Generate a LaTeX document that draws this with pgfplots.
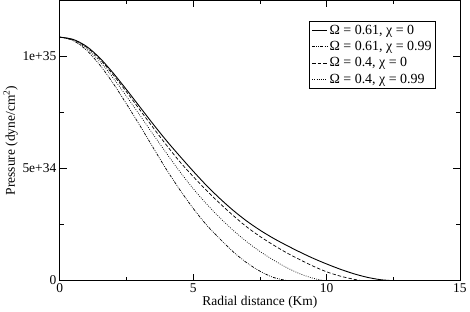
\documentclass[border=0pt]{standalone}
\usepackage{pgfplots}
\pgfplotsset{compat=1.18}
\usepackage{pgfplotstable}
\usepackage{fontspec}
\setmainfont{Liberation Serif}

\pgfplotstableread{
x y
0 10.86
0.5 10.76
1.0 10.45
1.5 9.93
2.0 9.26
2.5 8.52
3.0 7.75
3.5 6.98
4.0 6.24
4.5 5.55
5.0 4.88
5.5 4.24
6.0 3.66
6.5 3.13
7.0 2.66
7.5 2.25
8.0 1.89
8.5 1.57
9.0 1.27
9.5 0.99
10.0 0.74
10.5 0.51
11.0 0.31
11.5 0.15
12.0 0.04
12.4 0
}\solidA

\pgfplotstableread{
x y
0 10.86
0.5 10.71
1.0 10.28
1.5 9.62
2.0 8.80
2.5 7.88
3.0 6.92
3.5 5.93
4.0 4.95
4.5 4.05
5.0 3.22
5.5 2.48
6.0 1.86
6.5 1.28
7.0 0.80
7.5 0.42
8.0 0.14
8.5 0
}\dashdotB

\pgfplotstableread{
x y
0 10.86
0.5 10.75
1.0 10.42
1.5 9.88
2.0 9.18
2.5 8.42
3.0 7.62
3.5 6.82
4.0 6.04
4.5 5.30
5.0 4.64
5.5 4.02
6.0 3.44
6.5 2.90
7.0 2.40
7.5 1.97
8.0 1.59
8.5 1.24
9.0 0.93
9.5 0.64
10.0 0.39
10.5 0.20
11.0 0.06
11.3 0
}\dashedC

\pgfplotstableread{
x y
0 10.86
0.5 10.73
1.0 10.36
1.5 9.78
2.0 9.04
2.5 8.22
3.0 7.38
3.5 6.52
4.0 5.68
4.5 4.86
5.0 4.10
5.5 3.42
6.0 2.80
6.5 2.24
7.0 1.74
7.5 1.30
8.0 0.92
8.5 0.58
9.0 0.30
9.5 0.10
9.9 0
}\dottedD

\begin{document}
\begin{tikzpicture}[x=1bp,y=1bp]
\begin{axis}[
  scale only axis,
  width=400bp, height=280bp,
  xmin=0, xmax=15, ymin=0, ymax=12.5,
  xtick={0,5,10,15},
  minor xtick={2.5,7.5,12.5},
  ytick={0,5,10},
  yticklabels={0,5e+34,1e+35},
  minor ytick={2.5,7.5},
  tick align=inside,
  major tick length=7bp,
  minor tick length=4bp,
  tick style={black, line width=0.6pt},
  axis line style={line width=0.8pt},
  /pgf/number format/assume math mode=true,
  ticklabel style={font=\fontsize{13.5}{15}\selectfont},
  label style={font=\fontsize{13.5}{15}\selectfont},
  xlabel={Radial distance (Km)},
  ylabel={Pressure (dyne/cm\textsuperscript{2})},
  xlabel style={yshift=4bp},
  ylabel style={yshift=-2bp},
  legend style={at={(0.94,0.9275)}, anchor=north east, draw=black, line width=0.6pt,
    fill=white, font=\fontsize{14}{16}\selectfont, cells={anchor=west},
    inner sep=2bp, row sep=1.5bp},
  legend image code/.code={\draw[#1] (0bp,0bp) -- (15bp,0bp);},
]
\addplot[black, line width=0.9pt, smooth] table[x=x,y=y] {\solidA};
\addlegendentry{Ω = 0.61, χ = 0}
\addplot[black, line width=0.7pt, smooth, dash pattern=on 3bp off 1.2bp on 0.8bp off 1.2bp on 0.8bp off 1.2bp] table[x=x,y=y] {\dashdotB};
\addlegendentry{Ω = 0.61, χ = 0.99}
\addplot[black, line width=0.7pt, smooth, dash pattern=on 3.5bp off 2bp] table[x=x,y=y] {\dashedC};
\addlegendentry{Ω = 0.4, χ = 0}
\addplot[black, line width=0.7pt, smooth, dash pattern=on 0.8bp off 1.4bp] table[x=x,y=y] {\dottedD};
\addlegendentry{Ω = 0.4, χ = 0.99}
\end{axis}
\end{tikzpicture}
\end{document}
